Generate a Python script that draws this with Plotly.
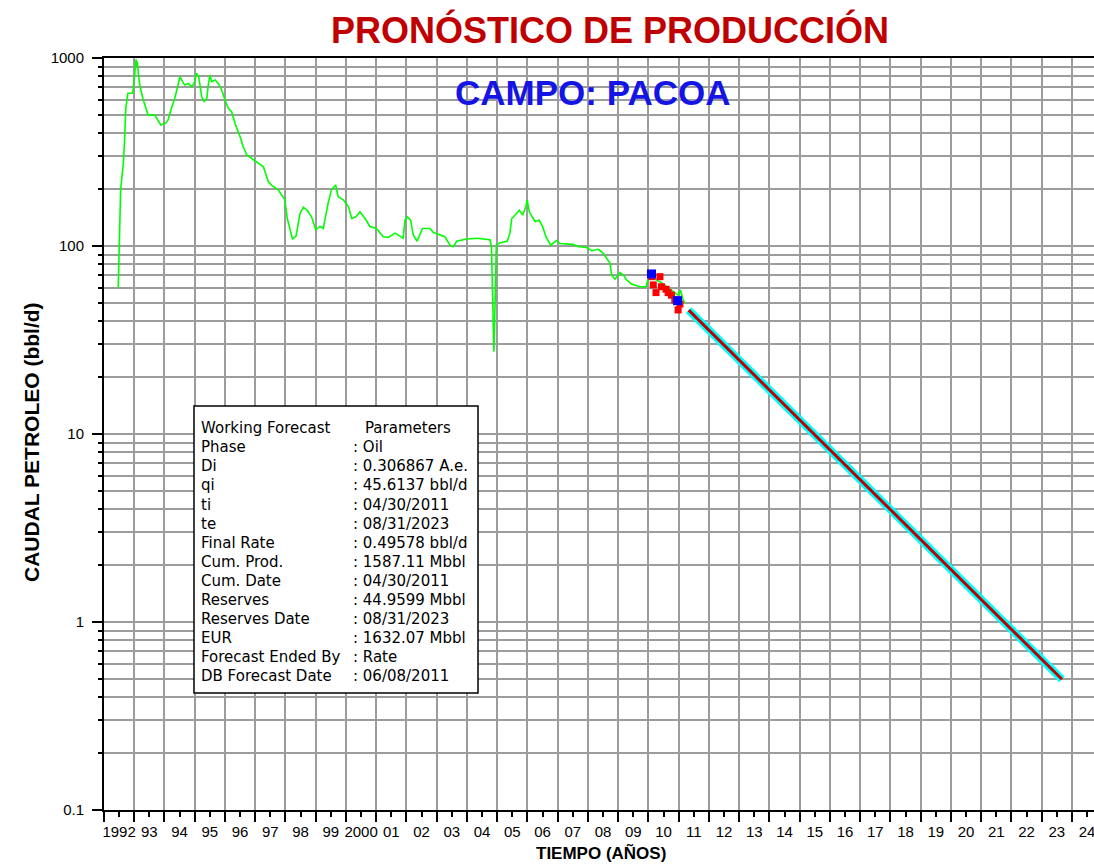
import plotly.graph_objects as go

# ----------------------------------------------
# production history (green)
hist_year = [1992.47, 1992.50, 1992.55, 1992.60, 1992.64, 1992.68, 1992.72, 1992.79, 1992.94, 1992.97,
             1993.06, 1993.08, 1993.10, 1993.13, 1993.19, 1993.30, 1993.46, 1993.68, 1993.79, 1993.88,
             1994.04, 1994.12, 1994.23, 1994.34, 1994.46, 1994.51, 1994.60, 1994.67, 1994.79, 1994.90,
             1994.98, 1995.06, 1995.13, 1995.23, 1995.31, 1995.40, 1995.44, 1995.50, 1995.56, 1995.67,
             1995.78, 1995.89, 1996.00, 1996.11, 1996.22, 1996.33, 1996.50, 1996.60, 1996.72, 1996.99,
             1997.27, 1997.43, 1997.54, 1997.76, 1997.98, 1998.06, 1998.23, 1998.35, 1998.48, 1998.59,
             1998.72, 1998.86, 1999.00, 1999.14, 1999.25, 1999.41, 1999.52, 1999.66, 1999.74, 1999.91,
             2000.08, 2000.19, 2000.33, 2000.46, 2000.63, 2000.79, 2001.01, 2001.23, 2001.40, 2001.62,
             2001.79, 2001.89, 2001.95, 2002.03, 2002.14, 2002.22, 2002.35, 2002.53, 2002.78, 2002.89,
             2003.27, 2003.44, 2003.55, 2003.66, 2003.99, 2004.32, 2004.76, 2004.81, 2004.85, 2004.89,
             2004.93, 2004.97, 2005.09, 2005.33, 2005.42, 2005.48, 2005.64, 2005.73, 2005.84, 2005.95,
             2005.99, 2006.06, 2006.25, 2006.39, 2006.50, 2006.61, 2006.77, 2006.96, 2007.07, 2007.51,
             2007.68, 2007.95, 2008.12, 2008.34, 2008.51, 2008.73, 2008.78, 2008.89, 2009.06, 2009.17,
             2009.28, 2009.44, 2009.72, 2009.92, 2009.96, 2010.07, 2010.38, 2010.60, 2010.82, 2010.98,
             2011.06, 2011.13, 2011.21]
hist_rate = [60, 90, 199, 239, 275, 366, 540, 649, 649, 690,
             985, 900, 960, 845, 703, 598, 497, 497, 468, 440,
             450, 468, 540, 611, 733, 796, 749, 718, 733, 703,
             733, 829, 796, 622, 586, 611, 703, 812, 749, 764,
             733, 676, 598, 540, 518, 450, 381, 338, 305, 285,
             264, 220, 211, 199, 176, 140, 109, 113, 149, 161,
             155, 143, 122, 127, 124, 169, 199, 211, 183, 176,
             162, 140, 143, 152, 140, 127, 124, 112, 111, 117,
             112, 110, 137, 143, 137, 115, 106, 124, 124, 118,
             112, 101, 99, 106, 109, 110, 108, 99, 52, 27.4,
             50, 101, 104, 106, 117, 140, 149, 155, 146, 162,
             176, 152, 135, 137, 127, 112, 101, 107, 103, 102,
             99, 98.4, 94.4, 96, 91.4, 80.9, 70.1, 66.5, 72.1, 70.1,
             65.9, 62.8, 60.7, 60.7, 64.5, 68.7, 64.5, 60.7, 57.2, 54.8,
             58.3, 52.7, 49.6]

# points used for the fit (red) and fit anchors (blue)
fit_year = [2010.11, 2010.16, 2010.38, 2010.25, 2010.43, 2010.58, 2010.65, 2010.76, 2010.87, 2010.98, 2011.04]
fit_rate = [68.7, 62.1, 68.7, 56.5, 60.7, 58.9, 56.5, 54.8, 51.6, 45.7, 49.1]
anchor_year = [2010.10, 2010.96]
anchor_rate = [71.0, 51.2]

# exponential forecast: qi at ti -> final rate at te
forecast_year = [2011.33, 2023.67]
forecast_rate = [45.6137, 0.49578]

# tick labels
years = list(range(1992, 2025))
year_labels = ['1992'] + [str(y)[2:] for y in range(1993, 2000)] + ['2000'] + [str(y)[2:] for y in range(2001, 2025)]

box_labels = ['Working Forecast', 'Phase', 'Di', 'qi', 'ti', 'te', 'Final Rate', 'Cum. Prod.', 'Cum. Date',
              'Reserves', 'Reserves Date', 'EUR', 'Forecast Ended By', 'DB Forecast Date']
box_values = ['Parameters', ': Oil', ': 0.306867 A.e.', ': 45.6137 bbl/d', ': 04/30/2011', ': 08/31/2023',
              ': 0.49578 bbl/d', ': 1587.11 Mbbl', ': 04/30/2011', ': 44.9599 Mbbl', ': 08/31/2023',
              ': 1632.07 Mbbl', ': Rate', ': 06/08/2011']

font = 'Liberation Sans, Arial, sans-serif'
box_font = dict(family='DejaVu Sans', size=15, color='black')
grid_color = '#9c9c9c'

# plot area in pixels (window 1094x866)
L, R, T, B = 104, 1094, 58, 810


def px(x):
    return (x - L) / (R - L)


def py(y):
    return (B - y) / (B - T)


fig = go.Figure()

fig.add_trace(go.Scatter(x=hist_year, y=hist_rate, mode='lines',
                         line=dict(color='#00ff00', width=1.6), name='Historia'))
fig.add_trace(go.Scatter(x=forecast_year, y=forecast_rate, mode='lines',
                         line=dict(color='#00ffff', width=8), name='Banda'))
fig.add_trace(go.Scatter(x=forecast_year, y=forecast_rate, mode='lines',
                         line=dict(color='#c00000', width=3), name='Pronóstico'))
fig.add_trace(go.Scatter(x=fit_year, y=fit_rate, mode='markers',
                         marker=dict(color='#ff0000', size=7, symbol='square'), name='Ajuste'))
fig.add_trace(go.Scatter(x=anchor_year, y=anchor_rate, mode='markers',
                         marker=dict(color='#0000ff', size=9, symbol='square'), name='Anclas'))

# y axis minor ticks 2..9 in each decade
minor_y = [m * 10 ** e for e in range(-1, 3) for m in range(2, 10)]

annotations = [
    dict(text='<b>PRONÓSTICO DE PRODUCCIÓN</b>', x=px(610), y=py(30), xref='paper', yref='paper',
         xanchor='center', yanchor='middle', showarrow=False,
         font=dict(family=font, size=36, color='#c00000')),
    dict(text='<b>CAMPO: PACOA</b>', x=px(592), y=py(92), xref='paper', yref='paper',
         xanchor='center', yanchor='middle', showarrow=False,
         font=dict(family=font, size=35, color='#1414e6')),
    dict(text='<b>CAUDAL PETROLEO (bbl/d)</b>', x=px(31), y=py(442), xref='paper', yref='paper',
         xanchor='center', yanchor='middle', showarrow=False, textangle=-90,
         font=dict(family=font, size=21, color='black')),
    dict(text='<b>TIEMPO (AÑOS)</b>', x=px(601), y=py(853), xref='paper', yref='paper',
         xanchor='center', yanchor='middle', showarrow=False,
         font=dict(family=font, size=17, color='black')),
]

# parameter box text, one line per annotation
for i, (lab, val) in enumerate(zip(box_labels, box_values)):
    yl = 428.3 + i * 19.05
    annotations.append(dict(text=lab, x=px(199), y=py(yl), xref='paper', yref='paper', showarrow=False,
                            xanchor='left', yanchor='middle', font=box_font))
    annotations.append(dict(text=val, x=px(363 if i == 0 else 351), y=py(yl), xref='paper', yref='paper',
                            showarrow=False, xanchor='left', yanchor='middle', font=box_font))

fig.update_layout(
    width=1094, height=866,
    margin=dict(l=L, r=1094 - R, t=T, b=866 - B),
    plot_bgcolor='white', paper_bgcolor='white',
    showlegend=False,
    font=dict(family=font, size=15, color='black'),
    annotations=annotations,
    shapes=[dict(type='rect', xref='paper', yref='paper', x0=px(194), x1=px(478), y0=py(693), y1=py(406),
                 line=dict(color='black', width=1.5), fillcolor='white', layer='above')],
)

fig.update_xaxes(
    range=[1992, 2024.73],
    tickmode='array', tickvals=[y + 0.5 for y in years], ticktext=year_labels,
    ticks='outside', ticklen=5, tickwidth=1.5, tickcolor='black', ticklabelstandoff=2,
    ticklabeloverflow='allow',
    showgrid=False, zeroline=False,
    showline=True, linecolor='black', linewidth=2, mirror=True,
    tickfont=dict(family=font, size=15),
    minor=dict(tickmode='array', tickvals=years, ticks='outside', ticklen=10, tickwidth=1.5, tickcolor='black',
               showgrid=True, gridcolor=grid_color, gridwidth=2),
)

fig.update_yaxes(
    type='log', range=[-1, 3],
    tickmode='array', tickvals=[0.1, 1, 10, 100, 1000], ticktext=['0.1', '1', '10', '100', '1000'],
    ticks='outside', ticklen=10, tickwidth=1.5, tickcolor='black', ticklabelstandoff=5,
    showgrid=True, gridcolor=grid_color, gridwidth=2, zeroline=False,
    showline=True, linecolor='black', linewidth=2,
    tickfont=dict(family=font, size=15),
    minor=dict(tickmode='array', tickvals=minor_y, ticks='outside', ticklen=4, tickwidth=1.5, tickcolor='black',
               showgrid=True, gridcolor=grid_color, gridwidth=2),
)

fig.write_html('out.html', config={'displayModeBar': False},
               post_script="document.body.style.margin='0';document.body.style.overflow='hidden';")
